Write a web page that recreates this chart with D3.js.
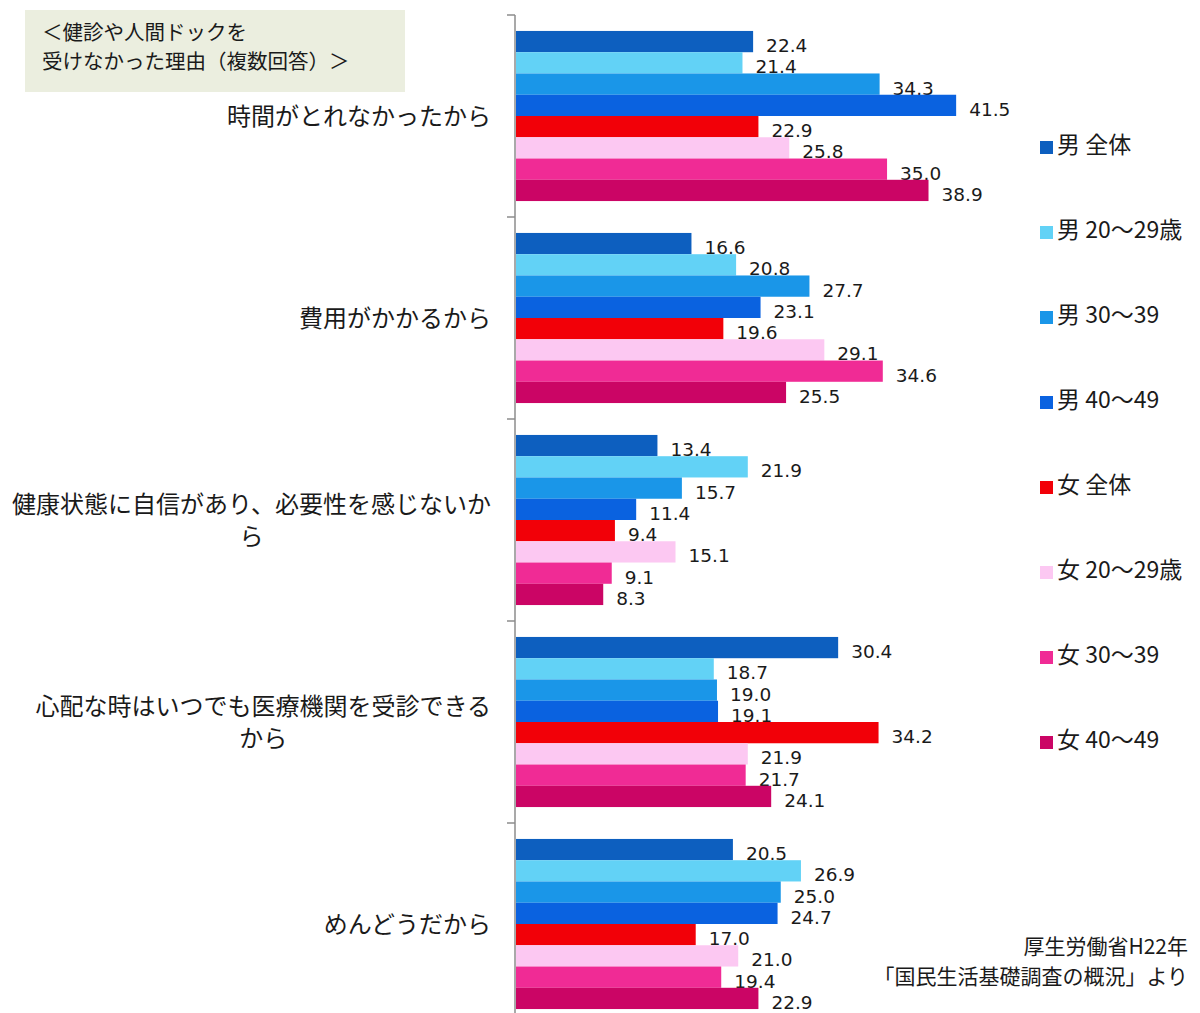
<!DOCTYPE html>
<html>
<head>
<meta charset="utf-8">
<script src="https://cdn.jsdelivr.net/npm/d3@7"></script>
<style>
  body { margin: 0; background: #fff; }
  svg { display: block; }
  text { fill: #1a1a1a; }
</style>
</head>
<body>
<svg width="1200" height="1013"></svg>
<script>
// categories (line breaks as in the original)
var categories = [
  ["時間がとれなかったから"],
  ["費用がかかるから"],
  ["健康状態に自信があり、必要性を感じないか", "ら"],
  ["心配な時はいつでも医療機関を受診できる", "から"],
  ["めんどうだから"]
];

var seriesNames = ["男 全体", "男 20〜29歳", "男 30〜39", "男 40〜49",
                   "女 全体", "女 20〜29歳", "女 30〜39", "女 40〜49"];
var seriesColors = ["#0d5fbf", "#62d2f6", "#1a96e8", "#0a62e0",
                    "#f20008", "#fcc8f2", "#f02b95", "#cb0565"];

var maleAll   = [22.4, 16.6, 13.4, 30.4, 20.5];
var male20s   = [21.4, 20.8, 21.9, 18.7, 26.9];
var male30s   = [34.3, 27.7, 15.7, 19.0, 25.0];
var male40s   = [41.5, 23.1, 11.4, 19.1, 24.7];
var femaleAll = [22.9, 19.6, 9.4, 34.2, 17.0];
var female20s = [25.8, 29.1, 15.1, 21.9, 21.0];
var female30s = [35.0, 34.6, 9.1, 21.7, 19.4];
var female40s = [38.9, 25.5, 8.3, 24.1, 22.9];

var values = [maleAll, male20s, male30s, male40s, femaleAll, female20s, female30s, female40s];

var titleLines = ["＜健診や人間ドックを", "受けなかった理由（複数回答）＞"];
var sourceLines = ["厚生労働省H22年", "「国民生活基礎調査の概況」より"];

var svg = d3.select("svg");
var jp = "'Noto Sans CJK JP', 'Noto Sans', sans-serif";

var catIdx = d3.range(categories.length);
var serIdx = d3.range(seriesNames.length);

var x = d3.scaleLinear().domain([0, 50]).range([515, 1046.5]);
var y0 = d3.scaleBand().domain(catIdx).range([15, 1025]);
var y1 = d3.scaleBand().domain(serIdx).range([0, y0.bandwidth()]).paddingOuter(0.75);

// title box
svg.append("rect")
    .attr("x", 25).attr("y", 10)
    .attr("width", 380).attr("height", 82)
    .attr("fill", "#ebeedf");
svg.selectAll(".title")
  .data(titleLines)
  .enter().append("text")
    .attr("x", 42)
    .attr("y", function(d, i) { return 40 + i * 29; })
    .style("font-family", jp)
    .style("font-size", "20.5px")
    .text(function(d) { return d; });

// axis
var axis = svg.append("g");
axis.append("line")
    .attr("x1", x(0)).attr("x2", x(0))
    .attr("y1", y0.range()[0]).attr("y2", y0.range()[1])
    .attr("stroke", "#8c8c8c").attr("stroke-width", 1.5);
axis.selectAll(".tick")
  .data(catIdx.map(function(c) { return y0(c); }).concat([y0.range()[1]]))
  .enter().append("line")
    .attr("x1", x(0) - 8).attr("x2", x(0))
    .attr("y1", function(d) { return d; }).attr("y2", function(d) { return d; })
    .attr("stroke", "#8c8c8c").attr("stroke-width", 1.5);

// category labels
catIdx.forEach(function(c) {
  var lines = categories[c];
  var cy = y0(c) + y0.bandwidth() / 2;
  var lh = 32;
  var t = svg.append("g");
  var texts = t.selectAll("text")
    .data(lines)
    .enter().append("text")
      .attr("y", function(d, i) { return cy + (i - (lines.length - 1) / 2) * lh; })
      .attr("dy", "0.36em")
      .style("font-family", jp)
      .style("font-size", "24px")
      .text(function(d) { return d; });
  var w = d3.max(texts.nodes(), function(n) { return n.getComputedTextLength(); });
  var right = 491;
  texts.attr("text-anchor", "middle").attr("x", right - w / 2);
});

// groups
var groups = svg.selectAll(".group")
  .data(catIdx)
  .enter().append("g")
    .attr("transform", function(c) { return "translate(0," + y0(c) + ")"; });

// value labels (drawn under bars, like the original)
groups.selectAll(".val")
  .data(function(c) { return serIdx.map(function(s) { return {s: s, v: values[s][c]}; }); })
  .enter().append("text")
    .attr("x", function(d) { return x(d.v) + 13; })
    .attr("y", function(d) { return y1(d.s) + y1.bandwidth() / 2 + 4; })
    .attr("dy", "0.35em")
    .style("font-family", "'DejaVu Sans', sans-serif")
    .style("font-size", "18.5px")
    .text(function(d) { return d.v.toFixed(1); });

groups.selectAll(".bar")
  .data(function(c) { return serIdx.map(function(s) { return {s: s, v: values[s][c]}; }); })
  .enter().append("rect")
    .attr("x", x(0) + 1)
    .attr("y", function(d) { return y1(d.s); })
    .attr("width", function(d) { return x(d.v) - x(0) - 1; })
    .attr("height", y1.bandwidth())
    .attr("fill", function(d) { return seriesColors[d.s]; });

// legend
var legend = svg.selectAll(".legend")
  .data(serIdx)
  .enter().append("g")
    .attr("transform", function(s) { return "translate(1040," + (145 + s * 85) + ")"; });
legend.append("rect")
    .attr("x", 0).attr("y", -4)
    .attr("width", 13).attr("height", 13)
    .attr("fill", function(s) { return seriesColors[s]; });
legend.append("text")
    .attr("x", 17)
    .attr("dy", "0.36em")
    .style("font-family", jp)
    .style("font-size", "23px")
    .text(function(s) { return seriesNames[s]; });

// source
svg.selectAll(".source")
  .data(sourceLines)
  .enter().append("text")
    .attr("x", 1188)
    .attr("y", function(d, i) { return 946 + i * 30; })
    .attr("dy", "0.36em")
    .attr("text-anchor", "end")
    .style("font-family", jp)
    .style("font-size", "21px")
    .text(function(d) { return d; });
</script>
</body>
</html>
